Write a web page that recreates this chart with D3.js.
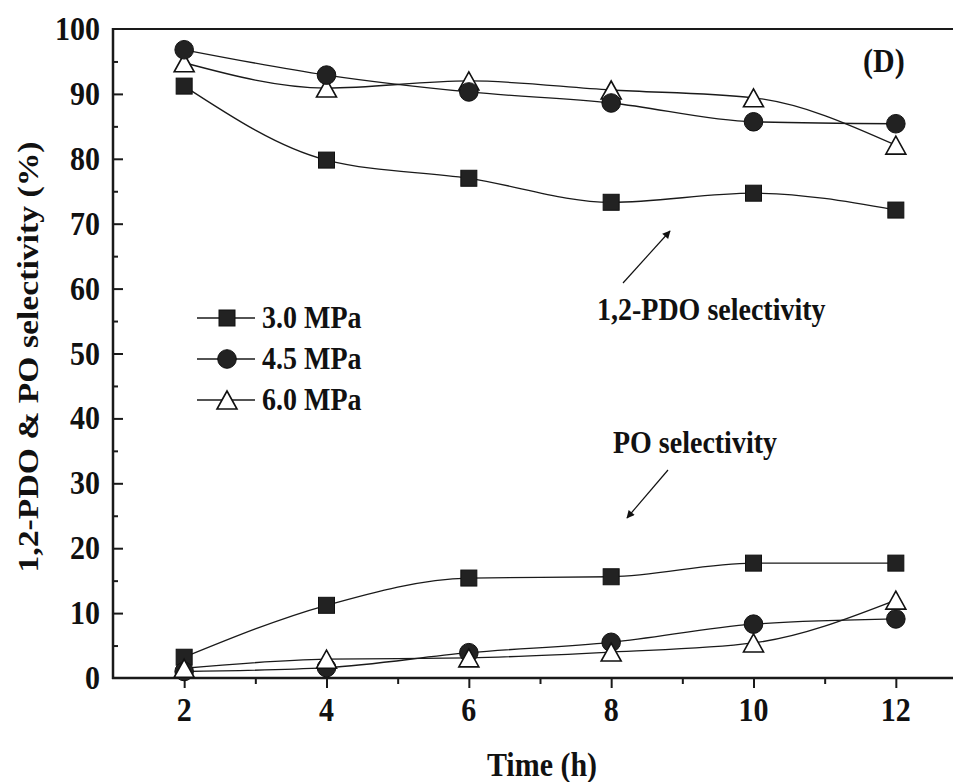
<!DOCTYPE html>
<html>
<head>
<meta charset="utf-8">
<script src="https://cdn.jsdelivr.net/npm/d3@7"></script>
<style>
  html, body { margin: 0; padding: 0; background: #ffffff; }
  svg { display: block; }
  text { font-family: "Liberation Serif", "Times New Roman", serif; font-weight: bold; fill: #111; }
</style>
</head>
<body>
<svg id="chart" width="953" height="782"></svg>
<script>
// Reaction time (h)
const times = [2, 4, 6, 8, 10, 12];

// 1,2-PDO selectivity (%) at each pressure
const pdo30 = [91.2, 79.8, 77.0, 73.3, 74.7, 72.1];
const pdo45 = [96.8, 92.9, 90.3, 88.6, 85.7, 85.4];
const pdo60 = [94.8, 90.9, 92.0, 90.6, 89.4, 82.1];

// PO selectivity (%) at each pressure
const po30 = [3.2, 11.2, 15.4, 15.6, 17.7, 17.7];
const po45 = [1.0, 1.6, 3.9, 5.5, 8.3, 9.1];
const po60 = [1.5, 2.9, 3.1, 4.0, 5.4, 12.0];

const seriesNames = ["3.0 MPa", "4.5 MPa", "6.0 MPa"];
const xTickValues = [2, 4, 6, 8, 10, 12];
const yTickValues = [0, 10, 20, 30, 40, 50, 60, 70, 80, 90, 100];

const svg = d3.select("#chart");
const plotLeft = 113, plotTop = 29, plotBottom = 678;

const x = d3.scaleLinear().domain([1, 13]).range([plotLeft, 967]);
const y = d3.scaleLinear().domain([0, 100]).range([plotBottom, plotTop]);

const ink = "#1a1a1a";
const textStretch = "scale(1,1.1)";

// ---- axes ----
// x ticks: outward, longer on even hours
const xAxis = d3.axisBottom(x)
  .tickValues(d3.range(2, 13))
  .tickSizeInner(0)
  .tickSizeOuter(0)
  .tickFormat("");
const gx = svg.append("g").attr("transform", `translate(0,${plotBottom})`).call(xAxis);
gx.select(".domain").remove();
gx.selectAll(".tick line")
  .attr("y2", d => (d % 2 === 0 ? 10 : 6))
  .attr("stroke", ink).attr("stroke-width", 2);

// y ticks: inward, major every 10, minor every 5
const yAxis = d3.axisLeft(y)
  .tickValues(d3.range(5, 100, 5))
  .tickSizeOuter(0)
  .tickFormat("");
const gy = svg.append("g").attr("transform", `translate(${plotLeft},0)`).call(yAxis);
gy.select(".domain").remove();
gy.selectAll(".tick line")
  .attr("x2", d => (d % 10 === 0 ? 10 : 5))
  .attr("stroke", ink).attr("stroke-width", 2);

// frame lines: left, bottom, top
svg.append("line").attr("x1", plotLeft).attr("x2", plotLeft).attr("y1", plotTop - 1).attr("y2", plotBottom + 1)
  .attr("stroke", ink).attr("stroke-width", 2.5);
svg.append("line").attr("x1", plotLeft - 1).attr("x2", 953).attr("y1", plotBottom).attr("y2", plotBottom)
  .attr("stroke", ink).attr("stroke-width", 2.5);
svg.append("line").attr("x1", plotLeft - 1).attr("x2", 953).attr("y1", plotTop).attr("y2", plotTop)
  .attr("stroke", ink).attr("stroke-width", 2);

// tick labels
svg.append("g").selectAll("text")
  .data(xTickValues)
  .join("text")
  .attr("transform", d => `translate(${x(d)},721) ${textStretch}`)
  .attr("text-anchor", "middle")
  .attr("font-size", 30)
  .text(d => d);

svg.append("g").selectAll("text")
  .data(yTickValues)
  .join("text")
  .attr("transform", d => `translate(100,${y(d) + 11}) ${textStretch}`)
  .attr("text-anchor", "end")
  .attr("font-size", 30)
  .text(d => d);

// axis titles
svg.append("text")
  .attr("transform", `translate(542,776) ${textStretch}`)
  .attr("text-anchor", "middle")
  .attr("font-size", 30)
  .text("Time (h)");

svg.append("text")
  .attr("transform", "translate(38,357) rotate(-90)")
  .attr("text-anchor", "middle")
  .attr("font-size", 30)
  .attr("textLength", 431)
  .attr("lengthAdjust", "spacingAndGlyphs")
  .text("1,2-PDO & PO selectivity (%)");

// ---- markers ----
function drawMarker(g, kind, cx, cy) {
  if (kind === "square") {
    g.append("rect").attr("x", cx - 8).attr("y", cy - 8).attr("width", 16).attr("height", 16)
      .attr("fill", "#222").attr("stroke", "#111").attr("stroke-width", 1);
  } else if (kind === "circle") {
    g.append("circle").attr("cx", cx).attr("cy", cy).attr("r", 9.3)
      .attr("fill", "#222").attr("stroke", "#111").attr("stroke-width", 1);
  } else {
    const w = 20, h = 18;
    g.append("path")
      .attr("d", `M${cx},${cy - h / 2}L${cx + w / 2},${cy + h / 2}L${cx - w / 2},${cy + h / 2}Z`)
      .attr("fill", "#fff").attr("stroke", "#111").attr("stroke-width", 1.6)
      .attr("stroke-linejoin", "miter");
  }
}

const line = d3.line()
  .x(d => x(d[0]))
  .y(d => y(d[1]))
  .curve(d3.curveMonotoneX);

// lines first for both groups, then markers in layering order
const layers = [
  [pdo30, "square"], [pdo60, "triangle"], [pdo45, "circle"],
  [po30, "square"], [po45, "circle"], [po60, "triangle"]
];
layers.forEach(([vals]) => {
  const pts = times.map((t, i) => [t, vals[i]]);
  svg.append("path").attr("d", line(pts))
    .attr("fill", "none").attr("stroke", ink).attr("stroke-width", 1.3);
});
layers.forEach(([vals, kind]) => {
  const g = svg.append("g");
  times.forEach((t, i) => drawMarker(g, kind, x(t), y(vals[i])));
});

// ---- legend ----
const legendKinds = ["square", "circle", "triangle"];
const legendRows = [318, 359, 400];
legendKinds.forEach((kind, i) => {
  const g = svg.append("g");
  const cy = legendRows[i];
  g.append("line").attr("x1", 197).attr("x2", 255).attr("y1", cy).attr("y2", cy)
    .attr("stroke", ink).attr("stroke-width", 1.3);
  drawMarker(g, kind, 227, cy);
  g.append("text")
    .attr("transform", `translate(262,${cy + 10}) ${textStretch}`)
    .attr("font-size", 28)
    .text(seriesNames[i]);
});

// ---- annotations ----
const defs = svg.append("defs");
defs.append("marker")
  .attr("id", "arrowHead")
  .attr("viewBox", "0 0 10 10")
  .attr("refX", 9).attr("refY", 5)
  .attr("markerWidth", 10).attr("markerHeight", 8)
  .attr("markerUnits", "userSpaceOnUse")
  .attr("orient", "auto")
  .append("path").attr("d", "M0,0L10,5L0,10Z").attr("fill", "#111");

svg.append("line").attr("x1", 623).attr("y1", 283).attr("x2", 670).attr("y2", 231)
  .attr("stroke", "#111").attr("stroke-width", 1.2).attr("marker-end", "url(#arrowHead)");
svg.append("text")
  .attr("transform", `translate(597,320) ${textStretch}`)
  .attr("font-size", 28)
  .text("1,2-PDO selectivity");

svg.append("line").attr("x1", 668).attr("y1", 470).attr("x2", 627).attr("y2", 518)
  .attr("stroke", "#111").attr("stroke-width", 1.2).attr("marker-end", "url(#arrowHead)");
svg.append("text")
  .attr("transform", `translate(613,453) ${textStretch}`)
  .attr("font-size", 28)
  .text("PO selectivity");

svg.append("text")
  .attr("transform", `translate(863,72) ${textStretch}`)
  .attr("font-size", 30)
  .text("(D)");
</script>
</body>
</html>
